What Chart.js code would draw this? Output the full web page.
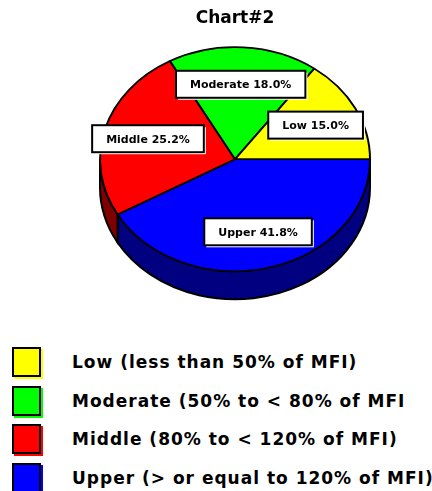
<!DOCTYPE html>
<html>
<head>
<meta charset="utf-8">
<script src="https://cdn.jsdelivr.net/npm/chart.js@4"></script>
<style>
  body { margin: 0; background: #fff; width: 432px; height: 491px; overflow: hidden; position: relative; }
  #wrap { position: absolute; left: 0; top: 0; width: 432px; height: 320px; }
  #legend { position: absolute; left: 12px; top: 343px; font-family: "DejaVu Sans", sans-serif; font-weight: bold; font-size: 17px; }
  .row { display: flex; align-items: center; height: 38.5px; }
  .box { width: 25px; height: 26px; border: 2px solid #000; margin-right: 31px; }
  .row span { letter-spacing: 1px; white-space: nowrap; }
</style>
</head>
<body>
<div id="wrap"><canvas id="pieChart" width="432" height="320"></canvas></div>
<div id="legend"></div>
<script>
// data
const categories = ['Low', 'Moderate', 'Middle', 'Upper'];
const legendLabels = [
    'Low (less than 50% of MFI)',
    'Moderate (50% to < 80% of MFI',
    'Middle (80% to < 120% of MFI)',
    'Upper (> or equal to 120% of MFI)'
];
const shares = [15.0, 18.0, 25.2, 41.8];
const topColors = ['#ffff00', '#00ff00', '#ff0000', '#0000ff'];
const sideColors = ['#808000', '#008000', '#800000', '#000080'];

const tilt = 0.83;   // vertical squash of the pie
const depth = 28;    // thickness of the 3d wall

// slices go clockwise from 3 o'clock, so draw them in reverse order
const order = [3, 2, 1, 0];

// html legend
const legend = document.getElementById('legend');
categories.forEach((c, i) => {
    const row = document.createElement('div');
    row.className = 'row';
    const box = document.createElement('div');
    box.className = 'box';
    box.style.background = topColors[i];
    box.style.boxShadow = '2px 2px 0 ' + topColors[i];
    const txt = document.createElement('span');
    txt.textContent = legendLabels[i];
    row.appendChild(box);
    row.appendChild(txt);
    legend.appendChild(row);
});

const pie3d = {
    id: 'pie3d',
    beforeDatasetsDraw(chart) {
        const ctx = chart.ctx;
        const arcs = chart.getDatasetMeta(0).data;
        ctx.save();
        arcs.forEach((arc, j) => {
            const a0 = Math.max(arc.startAngle, 0);
            const a1 = Math.min(arc.endAngle, Math.PI);
            if (a1 <= a0) return;
            const rx = arc.outerRadius, ry = arc.outerRadius * tilt;
            ctx.beginPath();
            ctx.ellipse(arc.x, arc.y, rx, ry, 0, a0, a1);
            ctx.lineTo(arc.x + rx * Math.cos(a1), arc.y + ry * Math.sin(a1) + depth);
            ctx.ellipse(arc.x, arc.y + depth, rx, ry, 0, a1, a0, true);
            ctx.closePath();
            ctx.fillStyle = sideColors[order[j]];
            ctx.fill();
            ctx.lineWidth = 2;
            ctx.strokeStyle = '#000';
            ctx.stroke();
        });
        ctx.restore();
        // squash the top face
        const a = arcs[0];
        ctx.save();
        ctx.translate(a.x, a.y);
        ctx.scale(1, tilt);
        ctx.translate(-a.x, -a.y);
    },
    afterDatasetsDraw(chart) {
        const ctx = chart.ctx;
        ctx.restore();
        const arcs = chart.getDatasetMeta(0).data;
        ctx.save();
        ctx.font = 'bold 11px "DejaVu Sans"';
        ctx.textAlign = 'center';
        ctx.textBaseline = 'middle';
        arcs.forEach((arc, j) => {
            const i = order[j];
            const mid = (arc.startAngle + arc.endAngle) / 2;
            const r = arc.outerRadius * 0.67;
            const x = arc.x + r * Math.cos(mid);
            const y = arc.y + r * tilt * Math.sin(mid);
            const text = categories[i] + ' ' + shares[i].toFixed(1) + '%';
            const w = ctx.measureText(text).width + 28;
            const h = 27;
            ctx.fillStyle = '#fff';
            ctx.fillRect(x - w / 2 + 2, y - h / 2 + 2, w, h);
            ctx.fillRect(x - w / 2, y - h / 2, w, h);
            ctx.lineWidth = 2;
            ctx.strokeStyle = '#000';
            ctx.strokeRect(x - w / 2, y - h / 2, w, h);
            ctx.fillStyle = '#000';
            ctx.fillText(text, x, y + 1);
        });
        ctx.restore();
    }
};

new Chart(document.getElementById('pieChart'), {
    type: 'pie',
    data: {
        labels: order.map(i => categories[i]),
        datasets: [{
            data: order.map(i => shares[i]),
            backgroundColor: order.map(i => topColors[i]),
            borderColor: '#000',
            borderWidth: 2
        }]
    },
    options: {
        responsive: false,
        animation: false,
        rotation: 90,
        radius: 135,
        layout: { padding: { left: 38, bottom: 40 } },
        plugins: {
            legend: { display: false },
            tooltip: { enabled: false },
            title: {
                display: true,
                text: 'Chart#2',
                color: '#000',
                font: { family: 'DejaVu Sans', size: 17, weight: 'bold' },
                padding: { top: 8, bottom: 10 }
            }
        }
    },
    plugins: [pie3d]
});
</script>
</body>
</html>
